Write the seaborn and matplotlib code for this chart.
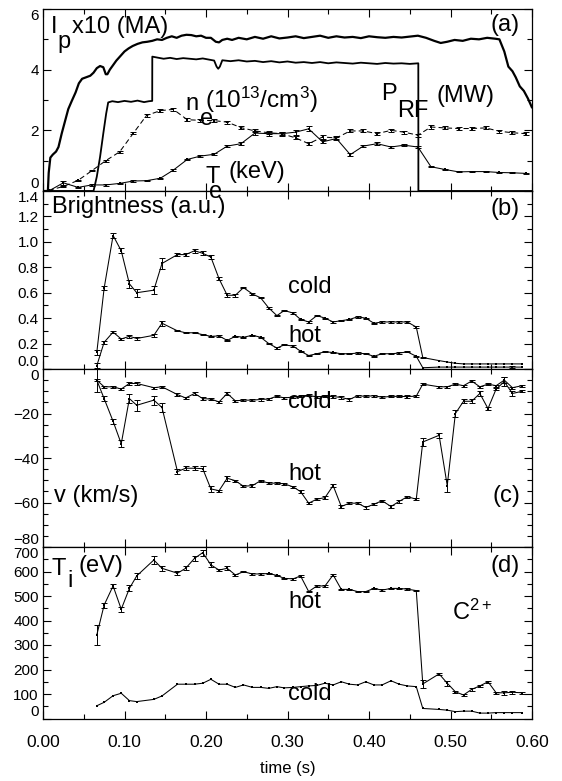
import numpy as np
import pandas as pd
import seaborn as sns
import matplotlib.pyplot as plt
from matplotlib.ticker import MultipleLocator, FormatStrFormatter

# ---- (a) plasma current x10 (MA) ----
t_ip = [0.000, 0.006, 0.007, 0.009, 0.012, 0.016, 0.019, 0.023, 0.027, 0.031,
        0.035, 0.040, 0.044, 0.048, 0.053, 0.058, 0.062, 0.066, 0.070, 0.074,
        0.077, 0.079, 0.082, 0.086, 0.090, 0.095, 0.100, 0.105, 0.110, 0.116,
        0.122, 0.128, 0.134, 0.140, 0.146, 0.152, 0.158, 0.164, 0.170, 0.176,
        0.182, 0.188, 0.194, 0.200, 0.206, 0.212, 0.216, 0.220, 0.226, 0.232,
        0.240, 0.250, 0.260, 0.270, 0.280, 0.290, 0.300, 0.310, 0.320, 0.330,
        0.340, 0.350, 0.360, 0.370, 0.380, 0.390, 0.400, 0.410, 0.420, 0.430,
        0.440, 0.450, 0.460, 0.470, 0.480, 0.488, 0.496, 0.505, 0.515, 0.525,
        0.535, 0.545, 0.555, 0.560, 0.566, 0.571, 0.576, 0.580, 0.585, 0.590,
        0.595, 0.600]
ip = [0.00, 0.00, 0.60, 1.10, 1.20, 1.30, 1.45, 1.90, 2.30, 2.70,
      2.95, 3.25, 3.55, 3.70, 3.75, 3.80, 3.90, 4.05, 4.12, 4.08,
      3.85, 3.85, 4.00, 4.15, 4.30, 4.45, 4.60, 4.70, 4.78, 4.85,
      4.90, 4.92, 4.95, 5.00, 4.98, 5.05, 5.10, 5.05, 5.12, 5.15,
      5.14, 5.10, 5.12, 5.05, 5.05, 4.92, 4.90, 4.98, 5.02, 4.98,
      5.05, 5.00, 5.08, 5.02, 5.10, 5.03, 5.06, 5.10, 5.04, 5.08,
      5.12, 5.05, 5.10, 5.06, 5.08, 5.04, 5.10, 5.07, 5.05, 5.08,
      5.06, 5.09, 5.12, 5.05, 4.95, 4.88, 4.92, 4.98, 4.95, 5.02,
      5.00, 5.05, 5.02, 5.00, 4.60, 4.10, 3.95, 3.75, 3.45, 3.30,
      3.05, 2.75]

# ---- (a) RF power (MW) ----
t_prf = [0.000, 0.062, 0.066, 0.070, 0.074, 0.0775, 0.080, 0.085, 0.092, 0.100,
         0.108, 0.116, 0.124, 0.130, 0.134, 0.1341, 0.140, 0.148, 0.156, 0.164,
         0.172, 0.180, 0.188, 0.196, 0.204, 0.210, 0.213, 0.215, 0.217, 0.220,
         0.230, 0.240, 0.250, 0.260, 0.270, 0.280, 0.290, 0.300, 0.310, 0.320,
         0.330, 0.340, 0.350, 0.360, 0.370, 0.380, 0.390, 0.400, 0.410, 0.420,
         0.430, 0.440, 0.450, 0.4605, 0.4606, 0.600]
prf = [0.00, 0.00, 0.47, 1.12, 1.90, 2.55, 2.92, 2.96, 2.93, 2.97,
       2.94, 2.98, 2.93, 2.96, 2.97, 4.43, 4.40, 4.36, 4.39, 4.35,
       4.38, 4.36, 4.34, 4.37, 4.33, 4.30, 4.10, 4.03, 4.10, 4.31,
       4.28, 4.31, 4.27, 4.29, 4.25, 4.28, 4.24, 4.27, 4.23, 4.25,
       4.22, 4.25, 4.21, 4.24, 4.22, 4.20, 4.23, 4.21, 4.19, 4.22,
       4.20, 4.21, 4.19, 4.21, 0.00, 0.00]

# ---- (a) density (1e13/cm3) and electron temperature (keV) ----
t_a = [0.007, 0.025, 0.043, 0.060, 0.077, 0.094, 0.111, 0.127, 0.144, 0.160,
       0.177, 0.193, 0.210, 0.226, 0.243, 0.260, 0.277, 0.293, 0.310, 0.326,
       0.343, 0.360, 0.377, 0.393, 0.410, 0.427, 0.443, 0.460, 0.476, 0.493,
       0.510, 0.526, 0.543, 0.560, 0.576, 0.593]
ne = [0.02, 0.15, 0.35, 0.67, 1.00, 1.29, 1.91, 2.49, 2.65, 2.69,
      2.35, 2.33, 2.32, 2.27, 2.09, 1.98, 1.92, 1.89, 1.75, 1.56,
      1.78, 1.75, 1.98, 1.98, 1.89, 2.00, 1.94, 1.84, 2.11, 2.08,
      2.06, 2.06, 2.08, 1.97, 1.92, 1.89]
ne_err = [0.02, 0.02, 0.02, 0.02, 0.03, 0.03, 0.04, 0.05, 0.05, 0.05,
          0.05, 0.05, 0.05, 0.05, 0.05, 0.05, 0.05, 0.05, 0.05, 0.05,
          0.05, 0.05, 0.05, 0.05, 0.05, 0.05, 0.05, 0.05, 0.05, 0.05,
          0.05, 0.05, 0.05, 0.05, 0.05, 0.05]
te = [0.00, 0.27, 0.12, 0.20, 0.20, 0.25, 0.33, 0.34, 0.42, 0.69,
      1.04, 1.15, 1.21, 1.48, 1.56, 1.91, 1.89, 1.89, 1.94, 2.05,
      1.62, 1.73, 1.20, 1.48, 1.56, 1.45, 1.51, 1.45, 0.80, 0.71,
      0.63, 0.64, 0.64, 0.61, 0.60, 0.58]
te_err = [0.02, 0.06, 0.02, 0.02, 0.02, 0.02, 0.02, 0.02, 0.02, 0.03,
          0.03, 0.03, 0.03, 0.04, 0.05, 0.06, 0.07, 0.07, 0.08, 0.08,
          0.05, 0.06, 0.04, 0.04, 0.05, 0.04, 0.04, 0.04, 0.02, 0.02,
          0.02, 0.02, 0.02, 0.02, 0.02, 0.02]

# ---- (b)-(d) C2+ cold and hot components ----
t_ion = [0.066, 0.075, 0.086, 0.096, 0.106, 0.115, 0.136, 0.146, 0.165, 0.175,
         0.186, 0.196, 0.206, 0.216, 0.226, 0.236, 0.246, 0.257, 0.267, 0.277,
         0.287, 0.296, 0.307, 0.316, 0.326, 0.336, 0.346, 0.356, 0.366, 0.376,
         0.386, 0.396, 0.406, 0.416, 0.427, 0.437, 0.447, 0.458, 0.466, 0.486,
         0.496, 0.506, 0.516, 0.526, 0.536, 0.546, 0.556, 0.566, 0.576, 0.588]

br_cold = [0.13, 0.635, 1.05, 0.93, 0.67, 0.60, 0.62, 0.83, 0.90, 0.90,
           0.93, 0.91, 0.88, 0.71, 0.58, 0.58, 0.64, 0.59, 0.56, 0.48,
           0.42, 0.46, 0.44, 0.39, 0.37, 0.42, 0.40, 0.37, 0.38, 0.39,
           0.41, 0.40, 0.36, 0.37, 0.37, 0.37, 0.37, 0.33, 0.09, 0.066,
           0.055, 0.045, 0.04, 0.04, 0.04, 0.04, 0.04, 0.04, 0.04, 0.04]
br_cold_err = [0.02, 0.015, 0.02, 0.02, 0.03, 0.03, 0.03, 0.04, 0.015, 0.015,
               0.015, 0.015, 0.015, 0.01, 0.015, 0.01, 0.005, 0.005, 0.005, 0.005,
               0.005, 0.005, 0.005, 0.005, 0.005, 0.005, 0.005, 0.005, 0.005, 0.005,
               0.005, 0.005, 0.005, 0.005, 0.005, 0.005, 0.005, 0.005, 0.005, 0,
               0, 0, 0, 0, 0, 0, 0, 0, 0, 0]
br_hot = [0.026, 0.21, 0.29, 0.236, 0.257, 0.24, 0.265, 0.36, 0.30, 0.285,
          0.285, 0.27, 0.257, 0.26, 0.225, 0.257, 0.25, 0.265, 0.25, 0.20,
          0.165, 0.19, 0.18, 0.14, 0.106, 0.12, 0.135, 0.13, 0.12, 0.12,
          0.125, 0.12, 0.10, 0.12, 0.12, 0.125, 0.135, 0.10, 0.01, 0.015,
          0.015, 0.015, 0.015, 0.015, 0.015, 0.015, 0.015, 0.015, 0.015, 0.015]
br_hot_err = [0.02, 0.01, 0.01, 0.01, 0.01, 0.01, 0.01, 0.02, 0.005, 0.005,
              0.005, 0.005, 0.005, 0.005, 0.005, 0.005, 0.005, 0.005, 0.005, 0.005,
              0.005, 0.005, 0.005, 0.005, 0.005, 0.005, 0.005, 0.005, 0.005, 0.005,
              0.005, 0.005, 0.005, 0.005, 0.005, 0.005, 0.005, 0.005, 0, 0,
              0, 0, 0, 0, 0, 0, 0, 0, 0.01, 0]

v_cold = [-5, -8, -8, -9, -6.5, -6.5, -8.4, -8, -11.5, -13,
          -11, -13.3, -13.5, -14.8, -11, -14.3, -14, -14, -13.7, -13.5,
          -12.2, -13, -12.6, -12.3, -11.8, -12.6, -12.2, -12.4, -12.8, -13.7,
          -12, -12.3, -12, -12.7, -12.3, -12.3, -12.4, -12.2, -6.8, -8,
          -8, -6.8, -7.5, -5.4, -8, -6.8, -7.5, -5, -8.4, -7.5]
v_cold_err = [5.5, 0.5, 0.5, 0.5, 0.5, 0.5, 0.5, 0.5, 0.5, 0.5,
              0.5, 0.5, 0.5, 0.5, 0.5, 0.5, 0.5, 0.5, 0.5, 0.5,
              0.5, 0.5, 0.5, 0.5, 0.5, 0.5, 0.5, 0.5, 0.5, 0.5,
              0.5, 0.5, 0.5, 0.5, 0.5, 0.5, 0.5, 0.5, 0.5, 0.5,
              0.5, 0.5, 0.5, 0.5, 0.5, 0.5, 0.5, 1.5, 0.5, 0.5]
v_hot = [-5, -13.3, -23.5, -33.6, -13.3, -16.3, -14, -17.3, -46.1, -44.6,
         -44.6, -44.8, -53.9, -54.7, -49.1, -50.2, -52.7, -52.4, -50.2, -51.3,
         -51.3, -51.6, -53, -55.1, -60.3, -58.5, -57.8, -52.4, -61.8, -60.3,
         -60.3, -62.2, -60.8, -59.2, -61.8, -59.5, -57.4, -58.5, -32.8, -29.8,
         -52.4, -20, -14.5, -14.5, -11, -17.8, -9, -5.7, -11, -10]
v_hot_err = [0.5, 1.0, 1.0, 1.5, 2.0, 2.5, 2.0, 2.0, 1.0, 1.0,
             1.0, 1.0, 1.5, 0.5, 1.2, 0.5, 0.5, 0.5, 0.5, 0.5,
             0.5, 0.5, 0.5, 0.5, 0.5, 0.5, 0.5, 0.5, 0.5, 0.5,
             0.5, 0.5, 0.5, 0.5, 0.5, 0.5, 0.5, 0.5, 2.0, 1.0,
             3.0, 1.5, 1.0, 1.0, 1.0, 0.5, 0.5, 2.0, 1.0, 0.5]

ti_hot = [341, 463, 541, 446, 531, 582, 647, 613, 593, 613,
          654, 677, 627, 606, 613, 586, 599, 590, 590, 592,
          584, 572, 570, 582, 518, 541, 541, 586, 527, 527,
          518, 518, 531, 524, 531, 531, 528, 522, 141, 182,
          144, 109, 96, 119, 133, 150, 105, 105, 107, 105]
ti_hot_err = [40, 10, 10, 10, 12, 12, 15, 10, 8, 8,
              10, 12, 10, 5, 8, 3, 3, 3, 3, 3,
              3, 3, 3, 3, 3, 3, 3, 3, 3, 3,
              3, 3, 3, 3, 3, 3, 3, 3, 15, 5,
              10, 5, 5, 5, 5, 5, 5, 8, 5, 3]
ti_cold = [52, 66, 93, 103, 73, 69, 78, 92, 140, 140,
           140, 144, 160, 140, 140, 127, 137, 127, 127, 123,
           130, 125, 127, 130, 133, 135, 144, 137, 150, 140,
           137, 150, 137, 137, 154, 140, 133, 130, 41, 37,
           34, 28, 30, 30, 22, 22, 24, 24, 24, 24]

sns.set_style('ticks')
plt.rcParams['font.family'] = ['Liberation Sans', 'DejaVu Sans']
plt.rcParams['mathtext.fontset'] = 'custom'
plt.rcParams['mathtext.rm'] = 'Liberation Sans'
plt.rcParams['mathtext.it'] = 'Liberation Sans:italic'
plt.rcParams['axes.edgecolor'] = 'black'
plt.rcParams['axes.linewidth'] = 0.9

W, H = 562, 781
fig = plt.figure(figsize=(W / 100, H / 100), dpi=100)


def box(top, bottom):
    return [43 / W, 1 - bottom / H, (532 - 43) / W, (bottom - top) / H]


ax_a = fig.add_axes(box(9, 191))
ax_b = fig.add_axes(box(191, 369), sharex=ax_a)
ax_c = fig.add_axes(box(369, 547), sharex=ax_a)
ax_d = fig.add_axes(box(547, 718.5), sharex=ax_a)
axes = [ax_a, ax_b, ax_c, ax_d]


def trace(ax, t, y, err=None, ls='-', lw=0.75, marker='s'):
    df = pd.DataFrame({'t': t, 'y': y})
    if err is not None:
        df['err'] = err
    df = df.dropna()
    sns.lineplot(data=df, x='t', y='y', ax=ax, color='black', lw=lw, linestyle=ls,
                 marker=marker, markersize=1.8, markeredgewidth=0,
                 estimator=None, sort=False, legend=False)
    if err is not None:
        eb = df[df['err'] > 0]  # only points where the reference shows a bar
        ax.errorbar(eb['t'], eb['y'], yerr=eb['err'], fmt='none', ecolor='black',
                    elinewidth=0.7, capsize=2.0, capthick=0.7)


# panel (a)
trace(ax_a, t_ip, ip, lw=1.6, marker=None)
trace(ax_a, t_prf, prf, lw=1.3, marker=None)
trace(ax_a, t_a, ne, ne_err, ls=(0, (5, 3)))
trace(ax_a, t_a, te, te_err)
# panel (b)
trace(ax_b, t_ion, br_cold, br_cold_err)
trace(ax_b, t_ion, br_hot, br_hot_err)
# panel (c)
trace(ax_c, t_ion, v_cold, v_cold_err)
trace(ax_c, t_ion, v_hot, v_hot_err)
# panel (d)
trace(ax_d, t_ion, ti_hot, ti_hot_err)
trace(ax_d, t_ion, ti_cold)

for ax in axes:
    ax.set_xlim(0, 0.6)
    ax.set_xlabel('')
    ax.set_ylabel('')
    ax.xaxis.set_major_locator(MultipleLocator(0.1))
    ax.xaxis.set_minor_locator(MultipleLocator(0.05))
    ax.tick_params(which='both', direction='in', top=True, right=True,
                   colors='black', labelsize=11, pad=3)
    ax.tick_params(which='major', length=6, width=0.8)
    ax.tick_params(which='minor', length=3.5, width=0.8)
    ax.tick_params(axis='x', labelbottom=False)

ax_a.set_ylim(0, 6)
ax_a.set_yticks([0, 2, 4, 6])
ax_a.yaxis.set_minor_locator(MultipleLocator(1))

ax_b.set_ylim(0, 1.4)
ax_b.set_yticks([0, 0.2, 0.4, 0.6, 0.8, 1.0, 1.2, 1.4])
ax_b.yaxis.set_major_formatter(FormatStrFormatter('%.1f'))
ax_b.yaxis.set_minor_locator(MultipleLocator(0.1))

ax_c.set_ylim(-80, 0)
ax_c.set_yticks([-80, -60, -40, -20, 0])
ax_c.yaxis.set_minor_locator(MultipleLocator(5))

ax_d.set_ylim(0, 700)
ax_d.set_yticks([0, 100, 200, 300, 400, 500, 600, 700])
ax_d.yaxis.set_minor_locator(MultipleLocator(50))

for ax in axes:
    ticks = ax.yaxis.get_major_ticks()
    ticks[0].label1.set_verticalalignment('bottom')
    ticks[-1].label1.set_verticalalignment('top')

ax_d.tick_params(axis='x', labelbottom=True, labelsize=12.5, pad=12)
ax_d.xaxis.set_major_formatter(FormatStrFormatter('%.2f'))
ax_d.set_xlabel('time (s)', fontsize=12, labelpad=8, color='black')


def label(x, y, s, size=17, ha='left'):
    fig.text(x / W, 1 - y / H, s, fontsize=size, ha=ha, va='baseline', color='black')


# panel (a) labels
label(51, 33, 'I')
label(57, 48, 'p')
label(72, 33, 'x10 (MA)')
label(520, 31, '(a)', ha='right')
label(185, 110, 'n')
label(200, 125, 'e')
label(205, 108, r'(10$^{13}$/cm$^{3}$)', size=17.5)
label(381, 100, 'P')
label(397, 117, 'RF')
label(437, 102, '(MW)')
label(205, 183, 'T')
label(209, 198, 'e')
label(228, 178, '(keV)')
# panel (b)
label(52, 213, 'Brightness (a.u.)')
label(520, 215, '(b)', ha='right')
label(288, 293, 'cold')
label(288, 342, 'hot')
# panel (c)
label(288, 408, 'cold')
label(288, 480, 'hot')
label(54, 502, 'v (km/s)')
label(520, 502, '(c)', ha='right')
# panel (d)
label(52, 575, 'T')
label(67, 587, 'i')
label(78, 572, '(eV)')
label(520, 572, '(d)', ha='right')
label(288, 608, 'hot')
label(288, 700, 'cold')
label(452, 620, r'C$^{2+}$')

fig.savefig('out.png', dpi=100, facecolor='white')
